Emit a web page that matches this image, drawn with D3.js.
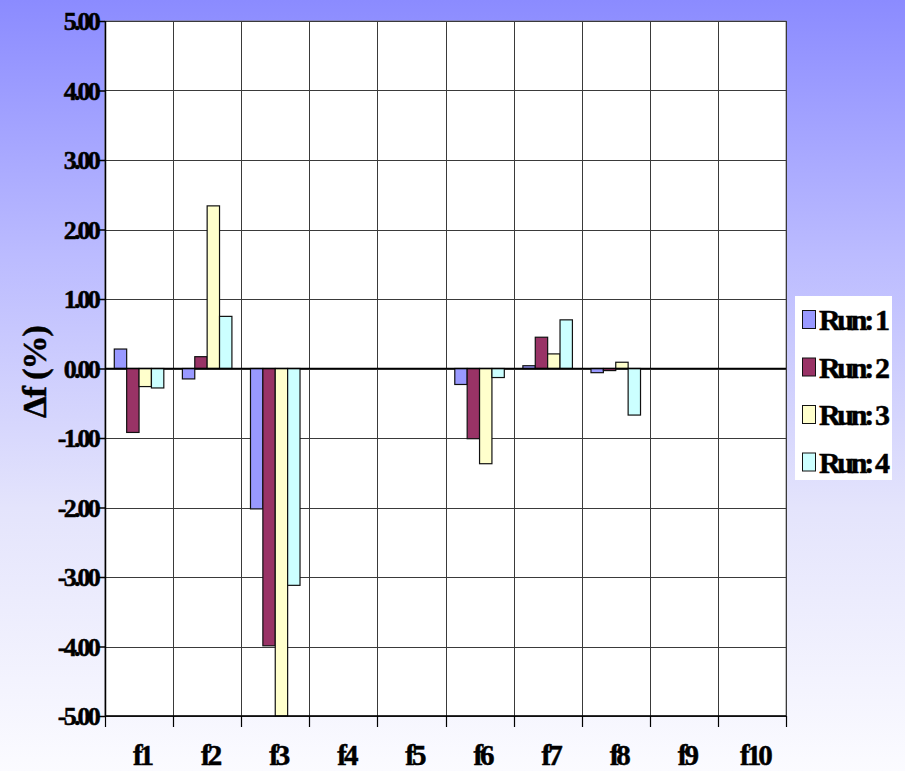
<!DOCTYPE html>
<html>
<head>
<meta charset="utf-8">
<script src="https://cdn.jsdelivr.net/npm/d3@7/dist/d3.min.js"></script>
<style>
  html, body { margin: 0; padding: 0; background: #ffffff; }
  svg { display: block; }
  text { font-family: "Liberation Serif", "Times New Roman", serif; font-weight: bold; fill: #000; }
</style>
</head>
<body>
<svg id="chart" width="912" height="771"></svg>
<script>
// Frequency shift per mode for each run
const categories = ["f1", "f2", "f3", "f4", "f5", "f6", "f7", "f8", "f9", "f10"];
const seriesNames = ["Run: 1", "Run: 2", "Run: 3", "Run: 4"];
const run1 = [0.28, -0.15, -2.02, 0, 0, -0.23, 0.04, -0.06, 0, 0];
const run2 = [-0.92, 0.17, -3.99, 0, 0, -1.01, 0.45, -0.03, 0, 0];
const run3 = [-0.26, 2.34, -5.00, 0, 0, -1.37, 0.21, 0.09, 0, 0];
const run4 = [-0.28, 0.75, -3.12, 0, 0, -0.13, 0.70, -0.67, 0, 0];
const seriesValues = [run1, run2, run3, run4];
const seriesColors = ["#9999ff", "#993366", "#ffffcc", "#ccffff"];
const yTicks = [5, 4, 3, 2, 1, 0, -1, -2, -3, -4, -5];

const svg = d3.select("#chart");

// Background gradient
const defs = svg.append("defs");
const grad = defs.append("linearGradient")
  .attr("id", "bg").attr("x1", 0).attr("y1", 0).attr("x2", 0).attr("y2", 1);
grad.append("stop").attr("offset", "0%").attr("stop-color", "#8b8bff");
grad.append("stop").attr("offset", "33%").attr("stop-color", "#bbbbff");
grad.append("stop").attr("offset", "66%").attr("stop-color", "#e4e4fc");
grad.append("stop").attr("offset", "100%").attr("stop-color", "#fbfbff");
svg.append("rect").attr("x", 0).attr("y", 0).attr("width", 905).attr("height", 771)
  .attr("fill", "url(#bg)");

const plot = { left: 105, top: 21, right: 786, bottom: 716 };

const x0 = d3.scaleBand().domain(categories).range([plot.left, plot.right]).padding(0);
const bw = x0.bandwidth();
const gapSide = bw * 0.75 / 5.5;
const x1 = d3.scaleBand().domain(d3.range(seriesNames.length))
  .range([gapSide, bw - gapSide]).padding(0);
const y = d3.scaleLinear().domain([-5, 5]).range([plot.bottom, plot.top]);

// Plot area
svg.append("rect")
  .attr("x", plot.left).attr("y", plot.top)
  .attr("width", plot.right - plot.left).attr("height", plot.bottom - plot.top)
  .attr("fill", "#ffffff").attr("stroke", "#808080").attr("stroke-width", 1);

// Horizontal gridlines
svg.append("g").selectAll("line").data(yTicks).join("line")
  .attr("x1", plot.left).attr("x2", plot.right)
  .attr("y1", d => Math.round(y(d)) + 0.5).attr("y2", d => Math.round(y(d)) + 0.5)
  .attr("stroke", "#3a3a3a").attr("stroke-width", 1);

// Vertical gridlines at category boundaries
const bounds = categories.map(c => x0(c)).concat([plot.right]);
svg.append("g").selectAll("line").data(bounds.slice(1)).join("line")
  .attr("x1", d => Math.round(d) + 0.5).attr("x2", d => Math.round(d) + 0.5)
  .attr("y1", plot.top).attr("y2", plot.bottom)
  .attr("stroke", "#3a3a3a").attr("stroke-width", 1);

// Bars
const barData = [];
seriesValues.forEach((vals, si) => {
  vals.forEach((v, ci) => barData.push({ cat: categories[ci], s: si, v: v }));
});
svg.append("g").selectAll("rect").data(barData.filter(d => d.v !== 0)).join("rect")
  .attr("x", d => x0(d.cat) + x1(d.s))
  .attr("width", x1.bandwidth())
  .attr("y", d => Math.min(y(d.v), y(0)))
  .attr("height", d => Math.abs(y(d.v) - y(0)))
  .attr("fill", d => seriesColors[d.s])
  .attr("stroke", "#111").attr("stroke-width", 1.2);

// Axes lines
svg.append("line")
  .attr("x1", plot.left).attr("x2", plot.right)
  .attr("y1", y(0)).attr("y2", y(0))
  .attr("stroke", "#000").attr("stroke-width", 1.5);
svg.append("line")
  .attr("x1", plot.left).attr("x2", plot.right)
  .attr("y1", plot.bottom).attr("y2", plot.bottom)
  .attr("stroke", "#000").attr("stroke-width", 1.5);
svg.append("line")
  .attr("x1", plot.left + 0.5).attr("x2", plot.left + 0.5)
  .attr("y1", plot.top).attr("y2", plot.bottom)
  .attr("stroke", "#000").attr("stroke-width", 1.5);

// Y axis ticks and labels (plain hyphen for negatives)
const fmt = d3.format(".2f");
const yAxis = d3.axisLeft(y).tickValues(yTicks)
  .tickFormat(d => fmt(d).replace("\u2212", "-"))
  .tickSize(6).tickPadding(1);
const yg = svg.append("g").attr("transform", `translate(${plot.left},0)`).call(yAxis);
yg.select(".domain").remove();
yg.selectAll(".tick line").attr("stroke", "#000").attr("stroke-width", 1.5);
yg.selectAll(".tick text")
  .style("font-family", "'Liberation Serif', serif").style("font-weight", "bold")
  .style("font-size", "26px").style("letter-spacing", "-2.8px")
  .attr("fill", "#000").attr("stroke", "#000").attr("stroke-width", 0.5)
  .attr("dy", "0.34em");

// Category tick marks below the axis
svg.append("g").selectAll("line").data(bounds).join("line")
  .attr("x1", d => Math.round(d) + 0.5).attr("x2", d => Math.round(d) + 0.5)
  .attr("y1", plot.bottom).attr("y2", plot.bottom + 11)
  .attr("stroke", "#000").attr("stroke-width", 1.2);

// Category labels
svg.append("g").selectAll("text").data(categories).join("text")
  .attr("x", d => x0(d) + bw / 2 + 3)
  .attr("y", 765)
  .attr("text-anchor", "middle")
  .attr("stroke", "#000").attr("stroke-width", 0.5)
  .style("font-size", "29px").style("letter-spacing", "-3px")
  .text(d => d);

// Y axis title
svg.append("text")
  .attr("transform", "translate(46,372) rotate(-90)")
  .attr("text-anchor", "middle")
  .attr("stroke", "#000").attr("stroke-width", 0.5)
  .style("font-size", "34px").style("letter-spacing", "-1px")
  .text("Δf (%)");

// Legend
const lg = svg.append("g");
lg.append("rect").attr("x", 795).attr("y", 296).attr("width", 97).attr("height", 184)
  .attr("fill", "#ffffff");
seriesNames.forEach((name, i) => {
  const yy = 310 + i * 47.5;
  lg.append("rect").attr("x", 802.5).attr("y", yy + 0.5).attr("width", 13).attr("height", 18)
    .attr("fill", seriesColors[i]).attr("stroke", "#111").attr("stroke-width", 1);
  lg.append("text").attr("x", 819).attr("y", yy + 20)
    .attr("stroke", "#000").attr("stroke-width", 0.5)
    .style("font-size", "30px").style("letter-spacing", "-3.3px")
    .text(name);
});
</script>
</body>
</html>
